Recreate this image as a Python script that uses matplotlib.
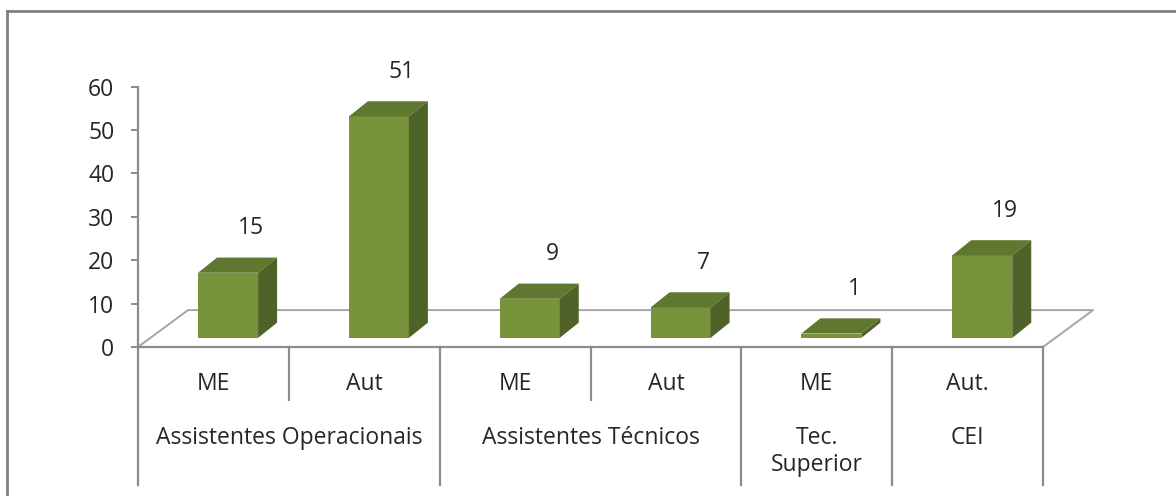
import matplotlib.pyplot as plt
from matplotlib.lines import Line2D

# Data
groups = ["Assistentes Operacionais", "Assistentes Técnicos", "Tec.\nSuperior", "CEI"]
group_sizes = [2, 2, 1, 1]
subcats = ["ME", "Aut", "ME", "Aut", "ME", "Aut."]
values = [15, 51, 9, 7, 1, 19]
yticks = [0, 10, 20, 30, 40, 50, 60]

plt.rcParams["font.family"] = ["Open Sans", "DejaVu Sans"]
FS = 16.5
TXT = "#262626"

W, H = 1176, 496
fig = plt.figure(figsize=(W / 100, H / 100), dpi=100)
ax = fig.add_axes([138 / W, 1 - 347 / H, (1043 - 138) / W, (347 - 86.5) / H])
ax.set_xlim(0, len(values))
ax.set_ylim(0, 60)

gray = "#8c8c8c"
front_c, top_c, side_c = "#77933c", "#5f772f", "#4f6228"

# fake 3D settings (in data units)
floor_dx, floor_dy = 0.332, 8.5
bar_off, bar_w = 0.398, 0.398
base = 2.1
dx, dy = 0.126, 3.5

# floor
ax.plot([0, floor_dx, len(values) + floor_dx, len(values)],
        [0, floor_dy, floor_dy, 0], color="#a6a6a6", lw=1.4, clip_on=False, zorder=1)
ax.plot([0, len(values)], [0, 0], color=gray, lw=1.6, clip_on=False, zorder=1)

# bars
for i, v in enumerate(values):
    x0 = i + bar_off
    x1 = x0 + bar_w
    b, t = base, base + v
    ax.fill([x0, x1, x1, x0], [b, b, t, t], color=front_c, lw=0, zorder=3, clip_on=False)
    ax.fill([x0, x1, x1 + dx, x0 + dx], [t, t, t + dy, t + dy], color=top_c, lw=0,
            zorder=3, clip_on=False)
    ax.fill([x1, x1 + dx, x1 + dx, x1], [b, b + dy, t + dy, t], color=side_c, lw=0,
            zorder=3, clip_on=False)
    ax.text(x0 + bar_w / 2 + 0.15, t + 10.3, str(v), ha="center", va="center",
            fontsize=FS, color=TXT)

# y axis
for s in ["top", "right", "bottom"]:
    ax.spines[s].set_visible(False)
ax.spines["left"].set_color(gray)
ax.spines["left"].set_linewidth(1.6)
ax.set_yticks(yticks)
ax.tick_params(axis="y", length=5, width=1.4, color=gray, pad=12,
               labelsize=FS, labelcolor=TXT)
ax.set_xticks([])

# category axis below the floor
ymin_long, ymin_short = -31.8, -12.2
group_edges = [0]
for n in group_sizes:
    group_edges.append(group_edges[-1] + n)
for k in range(len(values) + 1):
    y_end = ymin_long if k in group_edges else ymin_short
    ax.plot([k, k], [0, y_end], color=gray, lw=1.6, clip_on=False)
for i, lab in enumerate(subcats):
    ax.text(i + 0.5, -8.6, lab, ha="center", va="center", fontsize=FS, color=TXT)
for g, lab in enumerate(groups):
    center = (group_edges[g] + group_edges[g + 1]) / 2
    ax.text(center, -18.2, lab, ha="center", va="top", fontsize=FS, color=TXT,
            linespacing=1.15)

# outer frame
fig.add_artist(Line2D([7 / W, 1], [1 - 11 / H, 1 - 11 / H], color="#7f7f7f", lw=2))
fig.add_artist(Line2D([7 / W, 7 / W], [0, 1 - 11 / H], color="#7f7f7f", lw=2))

fig.savefig("out.png", dpi=100)
